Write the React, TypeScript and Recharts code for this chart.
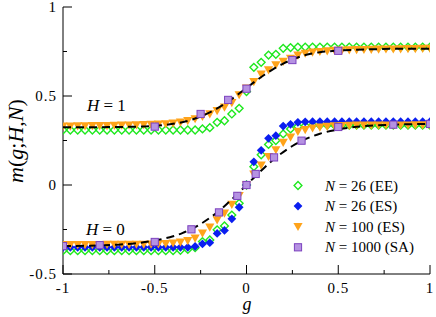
import { ComposedChart, Line, Scatter, XAxis, YAxis } from "recharts";

// grid of g values used by the exact / ES runs
const gGrid = [
  -1, -0.96, -0.92, -0.88, -0.84, -0.8, -0.76, -0.72, -0.68, -0.64, -0.6, -0.56, -0.52,
  -0.48, -0.44, -0.4, -0.36, -0.32, -0.28, -0.24, -0.2, -0.16, -0.12, -0.08, -0.04, 0,
  0.04, 0.08, 0.12, 0.16, 0.2, 0.24, 0.28, 0.32, 0.36, 0.4, 0.44, 0.48, 0.52, 0.56, 0.6,
  0.64, 0.68, 0.72, 0.76, 0.8, 0.84, 0.88, 0.92, 0.96, 1,
];

// H = 1
const ee26H1 = [
  0.309, 0.309, 0.309, 0.309, 0.309, 0.309, 0.309, 0.309, 0.309, 0.309, 0.309, 0.309, 0.309,
  0.309, 0.309, 0.309, 0.309, 0.309, 0.309, 0.315, 0.322, 0.352, 0.361, 0.399, 0.431, 0.525,
  0.661, 0.689, 0.73, 0.734, 0.768, 0.772, 0.775, 0.775, 0.775, 0.775, 0.775, 0.775, 0.775,
  0.775, 0.775, 0.775, 0.775, 0.775, 0.775, 0.775, 0.775, 0.775, 0.775, 0.775, 0.775,
];
const es100H1 = [
  0.33, 0.33, 0.331, 0.331, 0.332, 0.332, 0.333, 0.334, 0.335, 0.336, 0.337, 0.338, 0.339,
  0.341, 0.343, 0.347, 0.352, 0.361, 0.371, 0.384, 0.399, 0.417, 0.436, 0.462, 0.506, 0.543,
  0.58, 0.622, 0.646, 0.674, 0.693, 0.711, 0.728, 0.739, 0.745, 0.749, 0.752, 0.755, 0.757,
  0.758, 0.759, 0.76, 0.761, 0.762, 0.763, 0.763, 0.764, 0.765, 0.765, 0.766, 0.766,
];
const saGH1 = [-0.5, -0.25, -0.1, 0, 0.25, 0.5];
const sa1000H1 = [0.328, 0.399, 0.478, 0.541, 0.702, 0.754];

// H = 0
const ee26H0 = [
  -0.369, -0.369, -0.369, -0.369, -0.369, -0.369, -0.369, -0.369, -0.369, -0.369, -0.369,
  -0.369, -0.369, -0.369, -0.369, -0.369, -0.367, -0.362, -0.352, -0.318, -0.309, -0.252,
  -0.23, -0.169, -0.103, 0, 0.103, 0.17, 0.228, 0.25, 0.287, 0.315, 0.328, 0.333, 0.336,
  0.336, 0.336, 0.336, 0.336, 0.336, 0.336, 0.336, 0.336, 0.336, 0.336, 0.336, 0.336, 0.336,
  0.336, 0.336, 0.336,
];
const es26H0 = [
  -0.35, -0.35, -0.35, -0.35, -0.35, -0.35, -0.35, -0.35, -0.35, -0.35, -0.35, -0.35, -0.35,
  -0.35, -0.35, -0.35, -0.35, -0.35, -0.345, -0.331, -0.324, -0.272, -0.255, -0.19, -0.125, 0,
  0.13, 0.195, 0.262, 0.277, 0.331, 0.341, 0.352, 0.355, 0.356, 0.356, 0.356, 0.356, 0.356,
  0.356, 0.356, 0.356, 0.356, 0.356, 0.356, 0.356, 0.356, 0.356, 0.356, 0.356, 0.356,
];
const es100H0 = [
  -0.336, -0.336, -0.336, -0.336, -0.336, -0.336, -0.335, -0.335, -0.335, -0.335, -0.334,
  -0.334, -0.333, -0.332, -0.33, -0.327, -0.322, -0.314, -0.3, -0.272, -0.238, -0.197, -0.159,
  -0.11, -0.06, 0, 0.06, 0.11, 0.159, 0.197, 0.238, 0.268, 0.3, 0.31, 0.319, 0.324, 0.328,
  0.331, 0.333, 0.334, 0.335, 0.335, 0.335, 0.335, 0.336, 0.336, 0.336, 0.336, 0.337, 0.337,
  0.337,
];
const saGH0 = [-1, -0.8, -0.5, -0.3, -0.15, -0.05, 0, 0.05, 0.15, 0.3, 0.5, 0.8, 1];
const sa1000H0 = [-0.343, -0.338, -0.32, -0.249, -0.154, -0.061, 0, 0.062, 0.155, 0.249, 0.326, 0.339, 0.343];

// dashed theory curves
const theoryG = [
  -1, -0.8, -0.7, -0.6, -0.5, -0.4, -0.35, -0.3, -0.25, -0.2, -0.15, -0.1, -0.05, 0, 0.05, 0.1,
  0.15, 0.2, 0.25, 0.3, 0.35, 0.4, 0.5, 0.6, 0.7, 0.8, 1,
];
const theoryH1 = [
  0.324, 0.325, 0.326, 0.328, 0.332, 0.344, 0.353, 0.366, 0.385, 0.408, 0.436, 0.469, 0.506,
  0.545, 0.584, 0.621, 0.654, 0.682, 0.705, 0.724, 0.737, 0.746, 0.755, 0.76, 0.763, 0.765,
  0.766,
];
const theoryH0 = [
  -0.343, -0.339, -0.335, -0.327, -0.312, -0.288, -0.27, -0.247, -0.219, -0.185, -0.146, -0.1,
  -0.051, 0, 0.051, 0.1, 0.146, 0.185, 0.219, 0.247, 0.27, 0.288, 0.312, 0.327, 0.335, 0.339,
  0.343,
];

const xTicks = [-1, -0.75, -0.5, -0.25, 0, 0.25, 0.5, 0.75, 1];
const yTicks = [-0.5, -0.25, 0, 0.25, 0.5, 0.75, 1];

const FONT = "Liberation Serif";
const GREEN = "#1fe81f";
const BLUE = "#0a1ef0";
const ORANGE = "#ffa31a";
const PURPLE_FILL = "#b592e2";
const PURPLE_EDGE = "#7c42bf";

const pts = (xs: number[], ys: number[]) => xs.map((g, i) => ({ g, m: ys[i] }));
const isMajor = (v: number) => Math.abs(v * 2 - Math.round(v * 2)) < 1e-6;

function OpenDiamond({ cx, cy }: any) {
  const r = 3.9;
  return (
    <path
      d={`M${cx},${cy - r}L${cx + r},${cy}L${cx},${cy + r}L${cx - r},${cy}Z`}
      fill="none"
      stroke={GREEN}
      strokeWidth={1.4}
    />
  );
}

function FilledDiamond({ cx, cy }: any) {
  const r = 4.4;
  return <path d={`M${cx},${cy - r}L${cx + r},${cy}L${cx},${cy + r}L${cx - r},${cy}Z`} fill={BLUE} />;
}

function DownTriangle({ cx, cy }: any) {
  return (
    <path
      d={`M${cx - 4.6},${cy - 3.8}L${cx + 4.6},${cy - 3.8}L${cx},${cy + 4.4}Z`}
      fill={ORANGE}
    />
  );
}

function Square({ cx, cy }: any) {
  return (
    <rect x={cx - 3.6} y={cy - 3.6} width={7.2} height={7.2} fill={PURPLE_FILL} stroke={PURPLE_EDGE} strokeWidth={1} />
  );
}

function BottomTick({ x, y, payload }: any) {
  const v = payload.value;
  const major = isMajor(v);
  return (
    <g>
      <line x1={x} x2={x} y1={y} y2={y - (major ? 9 : 4)} stroke="#000" />
      {major && (
        <text x={x} y={y + 19} textAnchor="middle" fontFamily={FONT} fontSize={15} fill="#000" letterSpacing={1}>
          {String(v)}
        </text>
      )}
    </g>
  );
}

function TopTick({ x, y, payload }: any) {
  const major = isMajor(payload.value);
  return <line x1={x} x2={x} y1={y} y2={y + (major ? 9 : 4)} stroke="#000" />;
}

function LeftTick({ x, y, payload }: any) {
  const v = payload.value;
  const major = isMajor(v);
  return (
    <g>
      <line x1={x} x2={x + (major ? 9 : 4)} y1={y} y2={y} stroke="#000" />
      {major && (
        <text x={x - 6} y={y + 5} textAnchor="end" fontFamily={FONT} fontSize={15} fill="#000" letterSpacing={1}>
          {String(v)}
        </text>
      )}
    </g>
  );
}

function RightTick({ x, y, payload }: any) {
  const major = isMajor(payload.value);
  return <line x1={x} x2={x - (major ? 9 : 4)} y1={y} y2={y} stroke="#000" />;
}

const legendRows = [
  { n: "26", tag: "(EE)", Marker: OpenDiamond },
  { n: "26", tag: "(ES)", Marker: FilledDiamond },
  { n: "100", tag: "(ES)", Marker: DownTriangle },
  { n: "1000", tag: "(SA)", Marker: Square },
];

export default function App() {
  return (
    <div style={{ position: "absolute", left: 0, top: 0, width: 436, height: 317, background: "#fff" }}>
      <ComposedChart width={436} height={317} margin={{ top: 7, right: 6, bottom: 0, left: 0 }}>
        <XAxis
          xAxisId={0}
          type="number"
          dataKey="g"
          domain={[-1, 1]}
          ticks={xTicks}
          interval={0}
          height={43}
          tickSize={0}
          tickMargin={0}
          tickLine={false}
          tick={<BottomTick />}
          axisLine={{ stroke: "#000" }}
          allowDataOverflow
          label={{
            content: () => (
              <text x={247} y={310} textAnchor="middle" fontFamily={FONT} fontSize={18} fontStyle="italic" fill="#000">
                g
              </text>
            ),
          }}
        />
        <XAxis
          xAxisId="top"
          orientation="top"
          type="number"
          dataKey="g"
          domain={[-1, 1]}
          ticks={xTicks}
          interval={0}
          height={0}
          tickSize={0}
          tickMargin={0}
          tickLine={false}
          tick={<TopTick />}
          axisLine={{ stroke: "#000" }}
          allowDataOverflow
        />
        <YAxis
          yAxisId={0}
          type="number"
          dataKey="m"
          domain={[-0.5, 1]}
          ticks={yTicks}
          interval={0}
          width={63}
          tickSize={0}
          tickMargin={0}
          tickLine={false}
          tick={<LeftTick />}
          axisLine={{ stroke: "#000" }}
          allowDataOverflow
          label={{
            content: () => (
              <text
                x={23}
                y={141}
                transform="rotate(-90 23 141)"
                textAnchor="middle"
                fontFamily={FONT}
                fontSize={22}
                fill="#000"
              >
                <tspan fontStyle="italic">m</tspan>
                <tspan>(</tspan>
                <tspan fontStyle="italic">g</tspan>
                <tspan>;</tspan>
                <tspan fontStyle="italic">H</tspan>
                <tspan>,</tspan>
                <tspan fontStyle="italic">N</tspan>
                <tspan>)</tspan>
              </text>
            ),
          }}
        />
        <YAxis
          yAxisId="right"
          orientation="right"
          type="number"
          dataKey="m"
          domain={[-0.5, 1]}
          ticks={yTicks}
          interval={0}
          width={0}
          tickSize={0}
          tickMargin={0}
          tickLine={false}
          tick={<RightTick />}
          axisLine={{ stroke: "#000" }}
          allowDataOverflow
        />

        <Scatter data={pts(gGrid, ee26H1)} shape={<OpenDiamond />} isAnimationActive={false} zIndex={600} />
        <Scatter data={pts(gGrid, ee26H0)} shape={<OpenDiamond />} isAnimationActive={false} zIndex={600} />
        <Scatter data={pts(gGrid, es26H0)} shape={<FilledDiamond />} isAnimationActive={false} zIndex={601} />
        <Scatter data={pts(gGrid, es100H1)} shape={<DownTriangle />} isAnimationActive={false} zIndex={602} />
        <Scatter data={pts(gGrid, es100H0)} shape={<DownTriangle />} isAnimationActive={false} zIndex={602} />
        <Line
          data={pts(theoryG, theoryH1)}
          dataKey="m"
          type="monotone"
          stroke="#000"
          strokeWidth={2}
          strokeDasharray="8 5"
          dot={false}
          activeDot={false}
          isAnimationActive={false}
          zIndex={603}
        />
        <Line
          data={pts(theoryG, theoryH0)}
          dataKey="m"
          type="monotone"
          stroke="#000"
          strokeWidth={2}
          strokeDasharray="8 5"
          dot={false}
          activeDot={false}
          isAnimationActive={false}
          zIndex={603}
        />
        <Scatter data={pts(saGH1, sa1000H1)} shape={<Square />} isAnimationActive={false} zIndex={604} />
        <Scatter data={pts(saGH0, sa1000H0)} shape={<Square />} isAnimationActive={false} zIndex={604} />
      </ComposedChart>

      <svg width={436} height={317} style={{ position: "absolute", left: 0, top: 0, pointerEvents: "none" }}>
        <text x={87} y={111} fontFamily={FONT} fontSize={17} fill="#000">
          <tspan fontStyle="italic">H</tspan>
          <tspan> = 1</tspan>
        </text>
        <text x={86} y={235} fontFamily={FONT} fontSize={17} fill="#000">
          <tspan fontStyle="italic">H</tspan>
          <tspan> = 0</tspan>
        </text>
        {legendRows.map((row, i) => {
          const base = 190.5 + i * 20.6;
          const M = row.Marker;
          return (
            <g key={i}>
              <M cx={298} cy={base - 5} />
              <text x={325} y={base} fontFamily={FONT} fontSize={15} fill="#000">
                <tspan fontStyle="italic">N</tspan>
                <tspan>{` = ${row.n} ${row.tag}`}</tspan>
              </text>
            </g>
          );
        })}
      </svg>
    </div>
  );
}
